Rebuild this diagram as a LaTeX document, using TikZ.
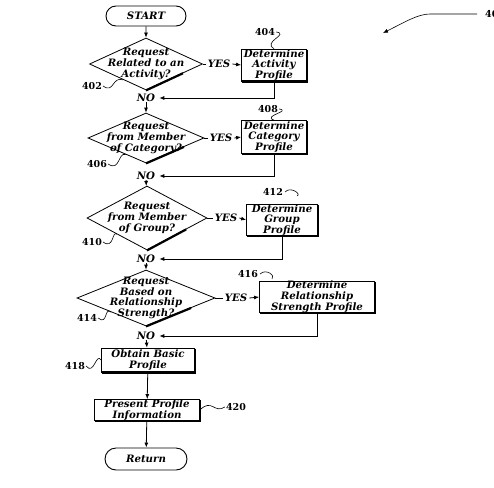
\documentclass[tikz,border=0pt]{standalone}
\usepackage{fontspec}
\setmainfont{DejaVu Serif}
\usetikzlibrary{shapes.geometric,shapes.misc,arrows.meta,calc}
\begin{document}
\begin{tikzpicture}[x=1pt,y=-1pt,
  every node/.style={font=\fontsize{10.2}{10.8}\selectfont\bfseries\itshape, inner sep=0pt},
  ln/.style={line width=0.8pt},
  arr/.style={line width=0.8pt,-{Latex[length=5pt,width=4pt]}},
  term/.style={draw, rounded rectangle, line width=0.9pt},
  dec/.style={draw, diamond, line width=0.8pt, inner sep=0pt},
  dtxt/.style={align=center},
  box/.style={draw, line width=0.8pt, align=center},
  refl/.style={font=\fontsize{9.5}{10}\selectfont\bfseries},
  sq/.style={line width=0.6pt},
  shd/.style={line width=2.2pt}
]
\useasboundingbox (0,0) rectangle (494,487);

% terminals
\node[term, minimum width=80pt, minimum height=20pt] (start) at (146,16) {START};
\node[term, minimum width=82pt, minimum height=22pt] (ret) at (146,459) {Return};

% decisions
\node[dec, minimum width=113pt, minimum height=52pt,
  label={[dtxt]center:{Request\\Related to an\\Activity?}}] (d1) at (146,64) {};
\node[dec, minimum width=116pt, minimum height=50pt,
  label={[dtxt]center:{Request\\from Member\\of Category?}}] (d2) at (146,138) {};
\node[dec, minimum width=120pt, minimum height=64pt,
  label={[dtxt]center:{Request\\from Member\\of Group?}}] (d3) at (147,218) {};
\node[dec, minimum width=138pt, minimum height=56pt,
  label={[dtxt]center:{Request\\Based on\\Relationship\\Strength?}}] (d4) at (146,298) {};

% process boxes
\node[box, minimum width=65pt, minimum height=32pt] (b404) at (274,65) {Determine\\Activity\\Profile};
\node[box, minimum width=65pt, minimum height=33pt] (b408) at (274,137) {Determine\\Category\\Profile};
\node[box, minimum width=71pt, minimum height=30pt] (b412) at (282,220) {Determine\\Group\\Profile};
\node[box, minimum width=115pt, minimum height=30pt] (b416) at (317,297) {Determine\\Relationship\\Strength Profile};
\node[box, minimum width=93pt, minimum height=24pt] (b418) at (148,360) {Obtain Basic\\Profile};
\node[box, minimum width=105pt, minimum height=21pt] (b420) at (147,410) {Present Profile\\Information};

% shadows
\foreach \n in {b404,b408,b412,b416,b418,b420}
  \draw[shd] ([yshift=-1pt]\n.north east) -- (\n.south east) -- ([xshift=1pt]\n.south west);
\foreach \n in {d1,d2,d3,d4}
  \draw[shd] ($(\n.east)!0.35!(\n.south)$) -- (\n.south);

% YES / NO labels
\node (y1) at (219,64) {YES};
\node (y2) at (221,138) {YES};
\node (y3) at (226,218) {YES};
\node (y4) at (236,298) {YES};
\node (n1) at (146,98) {NO};
\node (n2) at (146,176) {NO};
\node (n3) at (146,259) {NO};
\node (n4) at (146,336) {NO};

% connectors
\draw[arr] (start) -- (d1);
\draw[arr] (n1) -- (d2);
\draw[arr] (n2) -- (d3);
\draw[arr] (n3) -- (d4);
\draw[arr] (n4) -- (b418);
\draw[arr] (b418) -- (b420);
\draw[arr] (b420) -- (ret);
\foreach \d/\y/\b in {d1/y1/b404,d2/y2/b408,d3/y3/b412,d4/y4/b416}{
  \draw[ln] (\d.east) -- ([xshift=-2pt]\y.west);
  \draw[arr] ([xshift=2pt]\y.east) -- (\b.west);
}
\draw[arr] (b404.south) |- ([xshift=4pt]n1.east);
\draw[arr] (b408.south) |- ([xshift=4pt]n2.east);
\draw[arr] (b412.south) |- ([xshift=4pt]n3.east);
\draw[arr] (b416.south) |- ([xshift=4pt]n4.east);

% reference numerals
\node[refl] (r402) at (92,86) {402};
\node[refl] (r404) at (265,32) {404};
\node[refl] (r406) at (97,164) {406};
\node[refl] (r408) at (268,109) {408};
\node[refl] (r410) at (92,242) {410};
\node[refl] (r412) at (273,192) {412};
\node[refl] (r414) at (87,318) {414};
\node[refl] (r416) at (248,274) {416};
\node[refl] (r418) at (75,366) {418};
\node[refl] (r420) at (236,407) {420};
\node[refl, anchor=west] (r400) at (485,14) {400};

\coordinate (c412) at (297,196);
\coordinate (c416) at (272,279);
\draw[sq] ([xshift=1pt]r402.east) .. controls (114,94) and (112,76) .. ($(d1.west)!0.6!(d1.south)$);
\draw[sq] ([xshift=1pt]r404.east) .. controls (290,34) and (262,42) .. (b404.north);
\draw[sq] ([xshift=1pt]r406.east) .. controls (120,172) and (118,152) .. ($(d2.west)!0.65!(d2.south)$);
\draw[sq] ([xshift=1pt]r408.east) .. controls (292,111) and (262,116) .. (b408.north);
\draw[sq] ([xshift=1pt]r410.east) .. controls (114,250) and (112,230) .. ($(d3.west)!0.5!(d3.south)$);
\draw[sq] ([xshift=2pt]r412.east) .. controls (290,186) and (302,194) .. (c412);
\draw[sq] ([xshift=2pt]r416.east) .. controls (266,268) and (276,276) .. (c416);
\draw[sq] ([xshift=1pt]r414.east) .. controls (108,326) and (104,306) .. ($(d4.west)!0.5!(d4.south)$);
\draw[sq] ([xshift=1pt]r418.east) .. controls (94,376) and (96,352) .. (b418.west);
\draw[sq] (b420.east) .. controls (212,398) and (214,414) .. ([xshift=-1pt]r420.west);

\coordinate (c400a) at (477,14);
\coordinate (c400b) at (430,14);
\coordinate (c400c) at (383,33);
\draw[arr, line width=0.6pt] (c400a) -- (c400b) .. controls (418,14) and (405,22) .. (c400c);
\end{tikzpicture}
\end{document}
